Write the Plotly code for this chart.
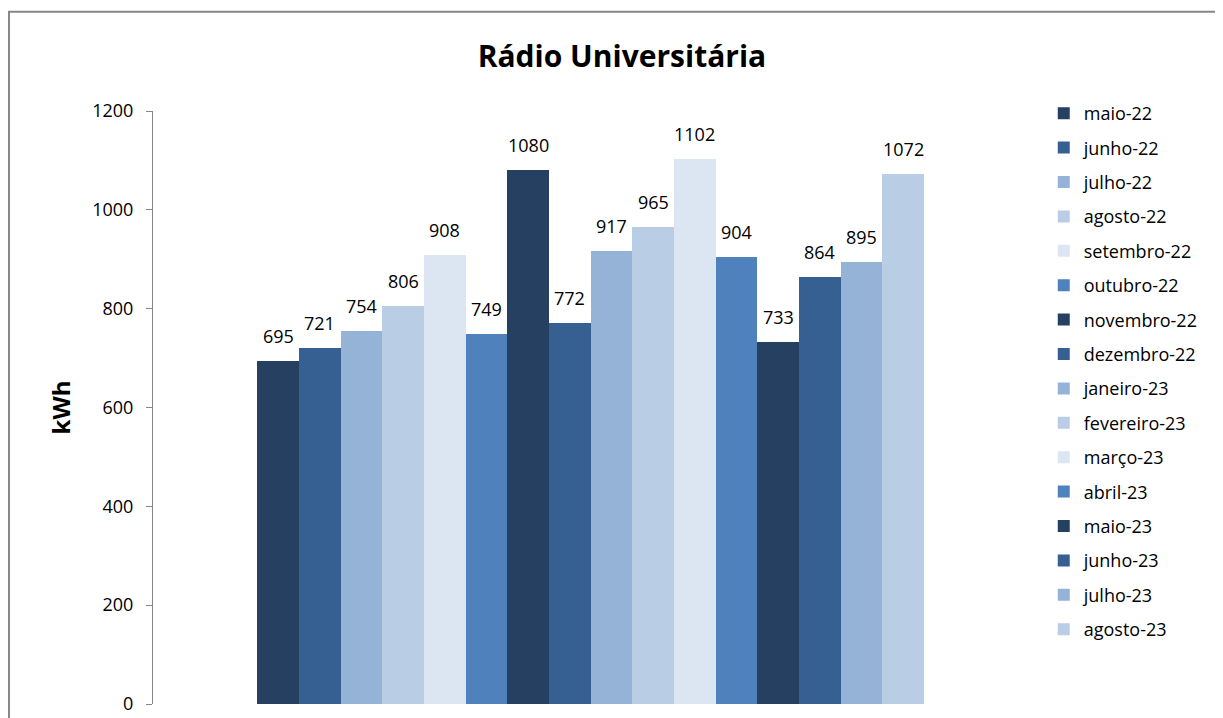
import plotly.graph_objects as go

months = ["maio-22", "junho-22", "julho-22", "agosto-22", "setembro-22", "outubro-22",
          "novembro-22", "dezembro-22", "janeiro-23", "fevereiro-23", "março-23", "abril-23",
          "maio-23", "junho-23", "julho-23", "agosto-23"]
values = [695, 721, 754, 806, 908, 749, 1080, 772, 917, 965, 1102, 904, 733, 864, 895, 1072]
palette = ["#254061", "#366092", "#95B3D7", "#B9CDE5", "#DCE6F2", "#4F81BD"]
y_ticks = [0, 200, 400, 600, 800, 1000, 1200]

FONT = "Open Sans, Carlito, Calibri, sans-serif"

fig = go.Figure()
for i, (m, v) in enumerate(zip(months, values)):
    fig.add_trace(go.Bar(
        x=[m], y=[v], name=m, legendgroup=m,
        marker=dict(color=palette[i % len(palette)], line=dict(width=0)),
        width=1.0,
    ))
    fig.add_annotation(x=m, y=v, text=str(v), showarrow=False, yshift=25,
                       font=dict(family=FONT, size=18, color="#000000"))

fig.update_layout(
    template="none",
    width=1215, height=710,
    margin=dict(l=145, r=195, t=103, b=14),
    paper_bgcolor="white", plot_bgcolor="white",
    barmode="overlay", bargap=0,
    showlegend=True,
    title=dict(text="<b>Rádio Universitária</b>", x=0.5053, xanchor="center",
               y=0.931, yanchor="middle",
               font=dict(family=FONT, size=30, color="#000000")),
    legend=dict(x=1.018, xanchor="left", y=1.027, yanchor="top",
                font=dict(family=FONT, size=18, color="#000000"),
                tracegroupgap=8, bgcolor="rgba(0,0,0,0)", borderwidth=0,
                maxheight=690),
    font=dict(family=FONT, color="#000000"),
    xaxis=dict(type="category", categoryorder="array", categoryarray=months,
               range=[-3, 18], showticklabels=False, showgrid=False,
               zeroline=False, showline=False, ticks=""),
    yaxis=dict(range=[0, 1200], tickvals=y_ticks, showgrid=False, zeroline=False,
               showline=True, linecolor="#868686", linewidth=1,
               ticks="outside", ticklen=6, tickcolor="#868686",
               ticklabelstandoff=9,
               tickfont=dict(family=FONT, size=18, color="#000000"),
               title=dict(text="<b>kWh</b>", standoff=14,
                          font=dict(family=FONT, size=24, color="#000000"))),
    shapes=[dict(type="rect", xref="paper", yref="paper",
                 x0=-0.1646, x1=1.4, y0=-0.2, y1=1.1675,
                 line=dict(color="#878787", width=2), fillcolor="rgba(0,0,0,0)",
                 layer="below")],
)

fig.write_html("out.html")
